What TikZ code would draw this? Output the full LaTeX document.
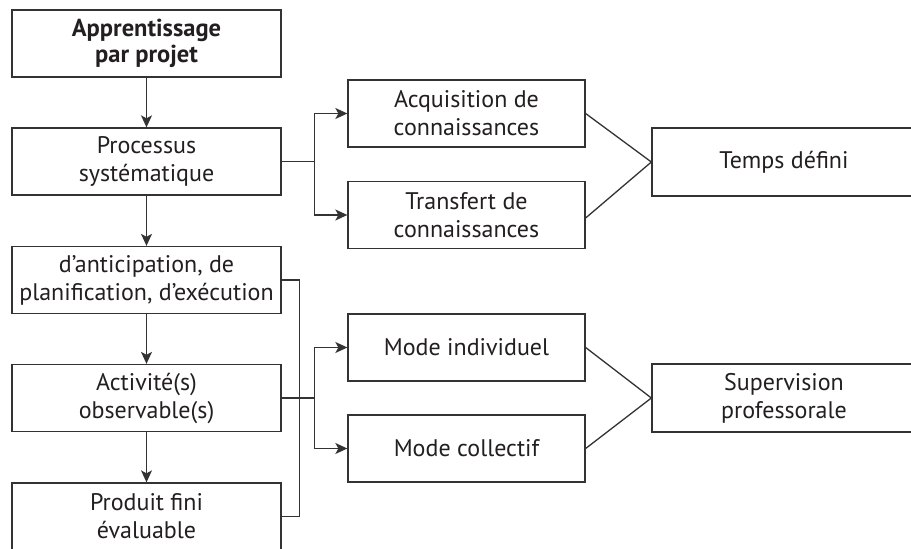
\documentclass[tikz,border=0pt]{standalone}
\usepackage{fontspec}
\setmainfont{PT Sans}
\usetikzlibrary{arrows.meta}
\definecolor{ink}{HTML}{231F20}
\definecolor{linec}{HTML}{333333}
\begin{document}
\begin{tikzpicture}[x=1pt,y=-1pt,
  box/.style={draw=linec,line width=1.3pt,rectangle,inner sep=0pt,align=center,text=ink,
    font=\fontsize{24}{28}\selectfont},
  leftbox/.style={box,minimum width=269pt,minimum height=67pt},
  midbox/.style={box,minimum width=237pt,minimum height=67pt},
  rightbox/.style={box,minimum width=264pt,minimum height=68pt},
  conn/.style={draw=linec,line width=1.3pt},
  arr/.style={conn,-{Stealth[length=12pt,width=11pt,inset=3pt]}}]
\useasboundingbox (0,0) rectangle (911,549);
\clip (0,0) rectangle (911,549);
\fill[white] (0,0) rectangle (911,549);
% left column
\node[leftbox,font=\fontsize{24.5}{26}\selectfont\bfseries] (b1) at (146.5,43.5) {Apprentissage\\par projet};
\node[leftbox] (b2) at (146.5,161.5) {Processus\\systématique};
\node[leftbox] (b3) at (146.5,280) {d’anticipation, de\\planification, d’exécution};
\node[leftbox] (b4) at (146.5,398) {Activité(s)\\observable(s)};
\node[leftbox] (b5) at (146.5,516.5) {Produit fini\\évaluable};
% middle column
\node[midbox] (acq) at (466.5,113.5) {Acquisition de\\connaissances};
\node[midbox] (tra) at (466.5,215) {Transfert de\\connaissances};
\node[midbox] (ind) at (466.5,347.5) {Mode individuel};
\node[midbox] (col) at (466.5,448.5) {Mode collectif};
% right column
\node[rightbox] (tps) at (784,162) {Temps défini};
\node[rightbox] (sup) at (784,398) {Supervision\\professorale};
% vertical arrows
\draw[arr] (b1.south) -- (b2.north);
\draw[arr] (b2.south) -- (b3.north);
\draw[arr] (b3.south) -- (b4.north);
\draw[arr] (b4.south) -- (b5.north);
% branches
\coordinate (s2) at ([xshift=33pt]b2.east);
\draw[conn] (b2.east) -- (s2);
\draw[arr] (s2) |- (acq.west);
\draw[arr] (s2) |- (tra.west);
\coordinate (s3) at ([xshift=18pt]b3.east);
\draw[conn] (b3.east) -- (s3) |- (b5.east);
\coordinate (s4) at ([xshift=33pt]b4.east);
\draw[conn] (b4.east) -- (s4);
\draw[arr] (s4) |- (ind.west);
\draw[arr] (s4) |- (col.west);
% converging lines
\draw[conn] (acq.east) -- (tps.west);
\draw[conn] ([yshift=-3pt]tra.east) -- (tps.west);
\draw[conn] (ind.east) -- (sup.west);
\draw[conn] (col.east) -- (sup.west);
\end{tikzpicture}
\end{document}
